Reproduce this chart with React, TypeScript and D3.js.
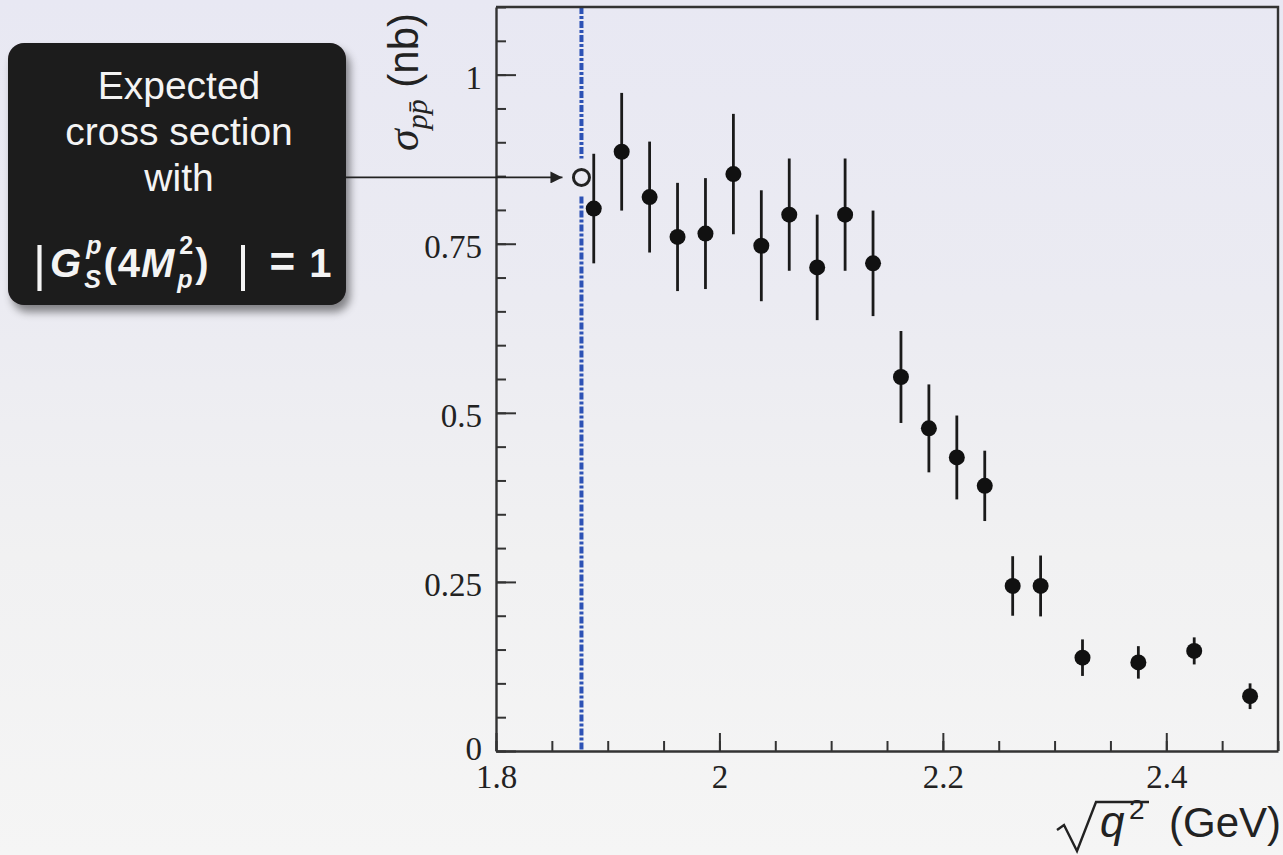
import React, { useEffect, useRef } from 'react'
import * as d3 from 'd3'

// measured points: sqrt(q^2) in GeV, cross section in nb
const sqrtQ2 = [1.8875, 1.9125, 1.9375, 1.9625, 1.9875, 2.0125, 2.0375, 2.0625, 2.0875, 2.1125, 2.1375,
  2.1625, 2.1875, 2.2125, 2.2375, 2.2625, 2.2875, 2.325, 2.375, 2.425, 2.475]
const sigma = [0.802, 0.886, 0.819, 0.760, 0.765, 0.853, 0.747, 0.793, 0.715, 0.793, 0.721,
  0.553, 0.477, 0.434, 0.392, 0.244, 0.244, 0.138, 0.131, 0.148, 0.081]
const sigmaErr = [0.081, 0.087, 0.082, 0.080, 0.082, 0.089, 0.082, 0.083, 0.078, 0.083, 0.078,
  0.068, 0.065, 0.062, 0.052, 0.044, 0.045, 0.027, 0.024, 0.020, 0.019]

// threshold (2 M_p) and expected value there
const threshold = 1.8765
const expected = 0.848

const xMajor = [1.8, 2, 2.2, 2.4]
const xMajorLabels = ['1.8', '2', '2.2', '2.4']
const yMajor = [0, 0.25, 0.5, 0.75, 1]
const yMajorLabels = ['0', '0.25', '0.5', '0.75', '1']

const boxLines = ['Expected', 'cross section', 'with']

const W = 1283, H = 855

export default function App() {
  const ref = useRef<SVGSVGElement>(null)

  useEffect(() => {
    const svg = d3.select(ref.current)
    svg.selectAll('*').remove()

    const left = 496, right = 1278, top = 7, bottom = 751

    const x = d3.scaleLinear().domain([1.8, 2.5]).range([left, right])
    const y = d3.scaleLinear().domain([0, 1.1]).range([bottom, top])

    const defs = svg.append('defs')
    const grad = defs.append('linearGradient').attr('id', 'bg')
      .attr('x1', 0).attr('y1', 0).attr('x2', 0).attr('y2', 1)
    grad.append('stop').attr('offset', '0%').attr('stop-color', '#e8e8f3')
    grad.append('stop').attr('offset', '35%').attr('stop-color', '#ebebf2')
    grad.append('stop').attr('offset', '65%').attr('stop-color', '#f1f1f2')
    grad.append('stop').attr('offset', '100%').attr('stop-color', '#f5f5f5')

    const shadow = defs.append('filter').attr('id', 'shadow')
      .attr('x', '-10%').attr('y', '-10%').attr('width', '130%').attr('height', '130%')
    shadow.append('feDropShadow').attr('dx', 4).attr('dy', 7).attr('stdDeviation', 4)
      .attr('flood-color', '#000').attr('flood-opacity', 0.45)

    defs.append('marker').attr('id', 'arrow')
      .attr('viewBox', '0 0 10 10').attr('refX', 10).attr('refY', 5)
      .attr('markerWidth', 20).attr('markerHeight', 12).attr('markerUnits', 'userSpaceOnUse')
      .attr('orient', 'auto')
      .append('path').attr('d', 'M0,0 L10,5 L0,10 z').attr('fill', '#222')

    svg.append('rect').attr('width', W).attr('height', H).attr('fill', 'url(#bg)')

    // threshold line, broken around the open marker
    const blue = '#2d52b5'
    const ye = y(expected)
    const seg = [[top, ye - 19], [ye + 19, bottom]]
    svg.append('g').selectAll('line').data(seg).enter().append('line')
      .attr('x1', x(threshold)).attr('x2', x(threshold))
      .attr('y1', d => d[0]).attr('y2', d => d[1])
      .attr('stroke', blue).attr('stroke-width', 4)
      .attr('stroke-dasharray', '7,2,3,2')

    // axes
    const axisColor = '#333'
    const serif = 'Liberation Serif, Times New Roman, serif'
    const sans = 'Liberation Sans, Arial, sans-serif'

    const yMinor = d3.range(0, 1.1001, 0.05)
    const xMinor = d3.range(1.8, 2.5001, 0.05)

    svg.append('g').attr('transform', `translate(${left},0)`)
      .call(d3.axisLeft(y).tickValues(yMinor).tickSize(-10).tickFormat(() => ''))
      .call(g => g.select('.domain').remove())
    svg.append('g').attr('transform', `translate(0,${bottom})`)
      .call(d3.axisBottom(x).tickValues(xMinor).tickSize(-10).tickFormat(() => ''))
      .call(g => g.select('.domain').remove())

    const yAxis = svg.append('g').attr('transform', `translate(${left},0)`)
      .call(d3.axisLeft(y).tickValues(yMajor).tickSize(-20).tickSizeOuter(0).tickPadding(14)
        .tickFormat((d, i) => yMajorLabels[i]))
    yAxis.selectAll('text').attr('dy', (d: any) => d === 0 ? '0.25em' : '0.42em')
    const xAxis = svg.append('g').attr('transform', `translate(0,${bottom})`)
      .call(d3.axisBottom(x).tickValues(xMajor).tickSize(-18).tickSizeOuter(0).tickPadding(14)
        .tickFormat((d, i) => xMajorLabels[i]))

    ;[yAxis, xAxis].forEach(a => {
      a.selectAll('text').attr('font-family', serif).attr('font-size', 33).attr('fill', '#222')
      a.select('.domain').attr('stroke', axisColor).attr('stroke-width', 2.4)
    })
    svg.selectAll('.tick line').attr('stroke', axisColor).attr('stroke-width', 2)

    // frame top and right
    svg.append('path')
      .attr('d', `M${left},${top} H${right} V${bottom}`)
      .attr('fill', 'none').attr('stroke', axisColor).attr('stroke-width', 2.4)

    // error bars and points
    const pts = sqrtQ2.map((v, i) => ({ x: v, y: sigma[i], e: sigmaErr[i] }))
    const g = svg.append('g')
    g.selectAll('line.err').data(pts).enter().append('line')
      .attr('x1', d => x(d.x)).attr('x2', d => x(d.x))
      .attr('y1', d => y(d.y + d.e)).attr('y2', d => y(d.y - d.e))
      .attr('stroke', '#1a1a1a').attr('stroke-width', 2.8)
    g.selectAll('circle').data(pts).enter().append('circle')
      .attr('cx', d => x(d.x)).attr('cy', d => y(d.y)).attr('r', 8)
      .attr('fill', '#111')

    // expected point (open circle)
    svg.append('circle').attr('cx', x(threshold)).attr('cy', ye).attr('r', 8)
      .attr('fill', 'none').attr('stroke', '#222').attr('stroke-width', 3)

    // callout box
    const bx = 8, by = 43, bw = 338, bh = 262
    svg.append('rect').attr('x', bx).attr('y', by).attr('width', bw).attr('height', bh)
      .attr('rx', 16).attr('fill', '#1c1a1b').attr('filter', 'url(#shadow)')

    svg.append('line').attr('x1', bx + bw).attr('x2', x(threshold) - 19)
      .attr('y1', ye).attr('y2', ye)
      .attr('stroke', '#222').attr('stroke-width', 1.8).attr('marker-end', 'url(#arrow)')

    svg.append('g').selectAll('text').data(boxLines).enter().append('text')
      .attr('x', bx + bw / 2 + 2).attr('y', (d, i) => 99 + i * 46)
      .attr('text-anchor', 'middle').attr('font-family', sans).attr('font-size', 39)
      .attr('fill', '#f4f4f4').text(d => d)

    // |G_S^p(4M_p^2)| = 1, laid out piece by piece
    const fg = svg.append('g').attr('font-family', sans).attr('fill', '#f4f4f4')
    const base = 277
    let cx = 33
    const put = (t: string, o: any = {}) => {
      const el = fg.append('text').attr('x', cx + (o.dx || 0)).attr('y', base + (o.dy || 0))
        .attr('font-size', o.size || 40)
        .attr('font-style', o.italic ? 'italic' : 'normal')
        .attr('font-weight', o.normal ? 'normal' : 'bold')
        .text(t)
      return (el.node() as SVGTextElement).getComputedTextLength()
    }
    const stack = (sup: string, sub: string, supIt: boolean, subIt: boolean) => {
      cx += 3
      const a = put(sup, { size: 25, dy: -23, italic: supIt, dx: 2 })
      const b = put(sub, { size: 25, dy: 11, italic: subIt })
      cx += Math.max(a + 2, b) + 2
    }
    cx += put('|', { normal: true, size: 50, dy: 4 }) + 4
    cx += put('G', { italic: true })
    stack('p', 'S', true, true)
    cx += put('(') + 1
    cx += put('4') + 1
    cx += put('M', { italic: true })
    stack('2', 'p', false, true)
    cx += put(')') + 28
    cx += put('|', { normal: true, size: 50, dy: 4 }) + 20
    cx += put('=', { size: 44 }) + 14
    put('1')

    // y axis title
    const yt = svg.append('text').attr('transform', 'translate(418,13) rotate(-90)')
      .attr('text-anchor', 'end').attr('fill', '#222')
    yt.append('tspan').attr('font-family', serif).attr('font-style', 'italic').attr('font-size', 44).text('σ')
    yt.append('tspan').attr('font-family', serif).attr('font-style', 'italic').attr('font-size', 30)
      .attr('dy', 9).text('pp\u0304')
    yt.append('tspan').attr('font-family', sans).attr('font-size', 42).attr('dy', -9).text(' (nb)')

    // x axis title
    svg.append('text').attr('x', 1100).attr('y', 837).attr('fill', '#222')
      .attr('font-family', sans).attr('font-size', 44).attr('font-style', 'italic').text('q')
    svg.append('text').attr('x', 1129).attr('y', 819).attr('fill', '#222')
      .attr('font-family', sans).attr('font-size', 28).text('2')
    svg.append('text').attr('x', 1281).attr('y', 837).attr('text-anchor', 'end').attr('fill', '#222')
      .attr('font-family', sans).attr('font-size', 42).text('(GeV)')
    svg.append('path')
      .attr('d', 'M1057,830 L1064,825 L1077,851 L1096,802 H1149')
      .attr('fill', 'none').attr('stroke', '#222').attr('stroke-width', 2.4)
  }, [])

  return (
    <svg ref={ref} width={W} height={H}
      style={{ position: 'absolute', left: 0, top: 0, display: 'block' }} />
  )
}
